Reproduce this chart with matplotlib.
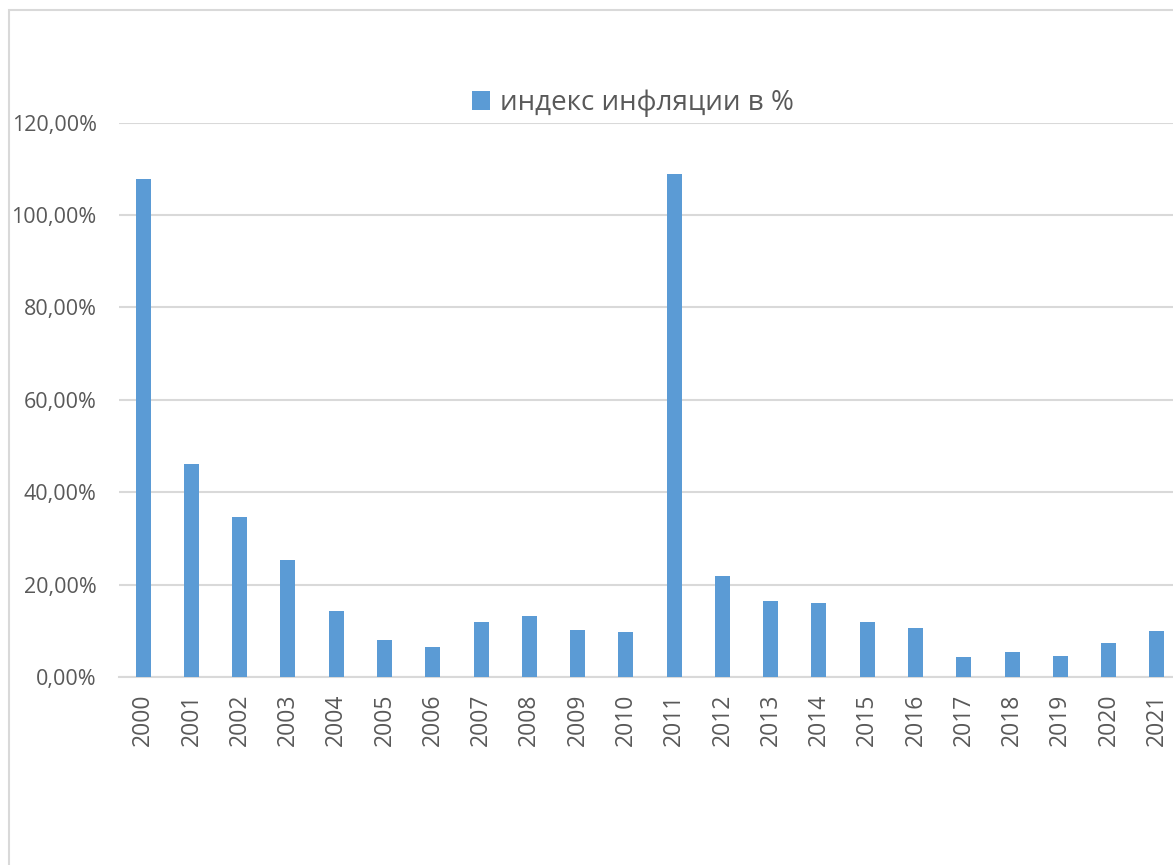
import matplotlib.pyplot as plt
from matplotlib.patches import Rectangle
from matplotlib.ticker import FuncFormatter

years = [str(y) for y in range(2000, 2022)]
inflation = [107.7, 46.1, 34.7, 25.3, 14.3, 7.9, 6.4, 12.0, 13.2, 10.1, 9.8,
             108.8, 21.8, 16.4, 16.1, 11.9, 10.5, 4.4, 5.5, 4.6, 7.3, 9.9]
series_name = "индекс инфляции в %"

plt.rcParams['font.family'] = ['Open Sans', 'DejaVu Sans']

W, H = 1173, 865
fig = plt.figure(figsize=(W / 100, H / 100), dpi=100)
ax = fig.add_axes([119 / W, 1 - 677 / H, (1181 - 119) / W, (677 - 122.5) / H])

# chart frame (cropped on the right and bottom in the original)
fig.patches.append(Rectangle((8.5 / W, -0.1), 1.2, 1 - 10 / H + 0.1,
                             transform=fig.transFigure, fill=False,
                             edgecolor="#d9d9d9", linewidth=1.5))

x = range(len(years))
ax.bar(x, inflation, width=0.31, color="#5b9bd5", label=series_name, zorder=3)

ax.set_xlim(-0.5, len(years) - 0.5)
ax.set_ylim(0, 120)
ax.set_yticks(range(0, 121, 20))
ax.yaxis.set_major_formatter(FuncFormatter(lambda v, p: f"{v:.2f}%".replace(".", ",")))
ax.set_xticks(list(x))
ax.set_xticklabels(years, rotation=90)

ax.grid(axis="y", color="#d9d9d9", linewidth=1.5, zorder=0)
for s in ["top", "right", "left"]:
    ax.spines[s].set_visible(False)
ax.spines["bottom"].set_color("#d9d9d9")
ax.spines["bottom"].set_linewidth(1.5)
ax.tick_params(length=0, colors="#595959")
ax.tick_params(axis="y", pad=16, labelsize=15.5)
ax.tick_params(axis="x", pad=12, labelsize=16.5)

fig.legend(loc="center", bbox_to_anchor=(633 / W, 1 - 103 / H), frameon=False,
           fontsize=20, labelcolor="#595959", handlelength=0.65, handleheight=0.65,
           handletextpad=0.35)

fig.savefig("out.png", dpi=100)
